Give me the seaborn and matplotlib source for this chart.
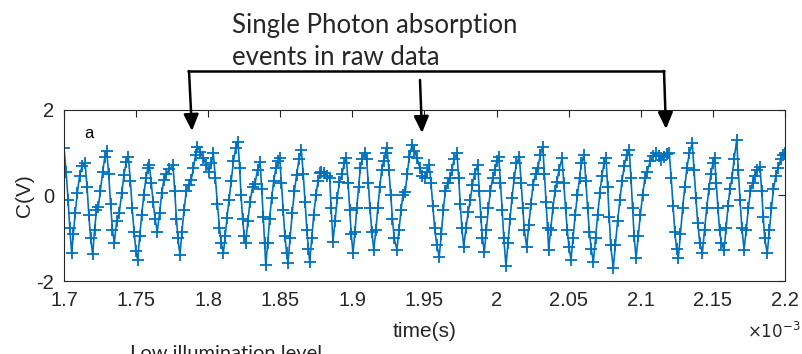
import matplotlib
matplotlib.use('Agg')

import numpy as np
import pandas as pd
import matplotlib.pyplot as plt
import seaborn as sns

# sample times in microseconds and capacitor voltage
t_us = [
    1700.0, 1701.5, 1702.8, 1704.0, 1705.3, 1706.5, 1707.8, 1709.2, 1710.8, 1712.5,
    1714.6, 1716.0, 1717.2, 1718.5, 1719.9, 1721.2, 1722.5, 1723.8, 1725.2, 1726.8,
    1728.3, 1729.6, 1731.0, 1732.3, 1733.6, 1734.9, 1736.5, 1738.3, 1740.0, 1741.6,
    1743.2, 1744.6, 1746.0, 1747.3, 1748.6, 1749.9, 1751.1, 1752.5, 1753.9, 1755.3,
    1756.8, 1758.2, 1759.2, 1760.5, 1761.8, 1763.2, 1764.7, 1766.3, 1767.8, 1769.2,
    1771.0, 1773.0, 1775.6, 1776.8, 1778.0, 1779.0, 1780.4, 1781.8, 1783.2, 1784.8,
    1786.5, 1788.2, 1789.8, 1791.2, 1792.5, 1794.5, 1796.5, 1798.5, 1800.5, 1802.2,
    1803.5, 1805.0, 1806.4, 1807.8, 1809.0, 1810.5, 1811.8, 1813.0, 1814.5, 1816.0,
    1817.5, 1819.0, 1820.7, 1821.8, 1822.8, 1823.9, 1825.0, 1826.0, 1827.5, 1829.0,
    1830.8, 1832.5, 1834.2, 1836.0, 1837.1, 1838.2, 1839.1, 1839.9, 1841.3, 1842.6,
    1844.0, 1845.5, 1847.0, 1848.4, 1849.6, 1850.8, 1852.0, 1853.2, 1854.4, 1855.3,
    1856.8, 1858.3, 1859.8, 1861.3, 1863.0, 1864.6, 1865.9, 1867.2, 1868.4, 1869.5,
    1870.4, 1871.8, 1873.2, 1874.7, 1876.2, 1877.5, 1878.5, 1880.5, 1882.5, 1884.2,
    1885.3, 1886.5, 1888.0, 1889.5, 1891.0, 1892.8, 1894.3, 1895.8, 1897.0, 1898.2,
    1899.2, 1900.4, 1901.8, 1903.0, 1904.3, 1905.5, 1906.8, 1908.5, 1909.8, 1911.0,
    1912.2, 1913.5, 1914.8, 1916.3, 1917.6, 1919.0, 1920.3, 1921.6, 1923.0, 1924.0,
    1925.3, 1926.6, 1927.8, 1929.0, 1930.9, 1932.3, 1933.7, 1935.0, 1936.7, 1938.0,
    1939.5, 1941.3, 1943.0, 1944.9, 1946.8, 1948.5, 1950.2, 1951.8, 1953.3, 1954.5,
    1955.8, 1957.0, 1958.5, 1960.2, 1961.7, 1963.0, 1964.5, 1966.0, 1967.5, 1969.0,
    1970.5, 1972.5, 1973.7, 1974.8, 1975.9, 1977.2, 1978.8, 1980.3, 1981.8, 1983.2,
    1984.7, 1986.9, 1988.0, 1989.1, 1990.2, 1991.5, 1992.9, 1994.3, 1995.7, 1997.2,
    1998.8, 2000.2, 2001.5, 2002.7, 2003.9, 2005.0, 2006.5, 2007.9, 2009.3, 2010.7,
    2012.2, 2013.8, 2015.8, 2017.0, 2018.2, 2019.2, 2020.9, 2022.3, 2023.8, 2025.3,
    2027.0, 2028.6, 2030.3, 2032.0, 2033.2, 2034.3, 2035.3, 2036.1, 2037.5, 2039.0,
    2040.5, 2041.8, 2043.3, 2045.4, 2046.6, 2047.8, 2049.0, 2050.2, 2051.6, 2053.0,
    2054.5, 2056.0, 2057.5, 2058.8, 2060.6, 2061.9, 2063.1, 2064.4, 2065.6, 2067.1,
    2068.6, 2070.1, 2071.6, 2073.0, 2074.5, 2075.9, 2077.0, 2078.1, 2079.1, 2080.9,
    2082.4, 2083.9, 2085.5, 2087.0, 2088.6, 2090.2, 2092.0, 2093.2, 2094.3, 2095.4,
    2096.7, 2098.2, 2099.7, 2101.2, 2102.8, 2104.5, 2106.5, 2108.5, 2110.5, 2112.5,
    2114.3, 2116.2, 2118.0, 2119.8, 2121.1, 2122.4, 2123.6, 2124.8, 2126.0, 2127.5,
    2129.0, 2130.5, 2132.0, 2133.7, 2135.7, 2136.9, 2138.2, 2139.5, 2140.9, 2142.7,
    2144.2, 2145.7, 2147.2, 2148.6, 2150.0, 2151.2, 2152.3, 2153.5, 2154.6, 2155.8,
    2157.7, 2159.2, 2160.5, 2161.8, 2163.2, 2164.7, 2166.5, 2167.6, 2168.8, 2170.1,
    2171.6, 2173.1, 2174.6, 2176.0, 2177.5, 2179.1, 2180.8, 2182.7, 2183.8, 2184.9,
    2185.9, 2187.7, 2189.2, 2190.6, 2192.0, 2193.6, 2195.2, 2197.0, 2198.5, 2200.0,
]
c_v = [
    1.11, 0.55, -0.10, -0.75, -1.35, -0.90, -0.40, 0.05, 0.45, 0.68,
    0.76, 0.20, -0.45, -1.00, -1.38, -0.80, -0.35, -0.26, 0.10, 0.55,
    0.90, 1.03, 0.50, -0.20, -0.80, -1.11, -0.60, -0.41, 0.05, 0.48,
    0.78, 0.91, 0.35, -0.30, -0.85, -1.30, -1.51, -0.95, -0.45, 0.00,
    0.40, 0.65, 0.71, 0.30, -0.15, -0.55, -0.85, -0.40, 0.05, 0.36,
    0.50, 0.62, 0.71, 0.10, -0.55, -1.00, -1.39, -0.85, -0.35, 0.10,
    0.25, 0.36, 0.65, 0.95, 1.14, 1.02, 0.88, 0.72, 0.56, 0.75,
    0.99, 0.40, -0.20, -0.75, -1.10, -1.35, -0.95, -0.53, -0.10, 0.35,
    0.80, 1.10, 1.26, 0.65, 0.00, -0.55, -0.95, -1.11, -0.60, -0.15,
    0.20, 0.28, 0.60, 0.79, 0.15, -0.50, -1.10, -1.63, -1.10, -0.55,
    -0.05, 0.35, 0.65, 0.80, 0.87, 0.30, -0.35, -0.95, -1.35, -1.58,
    -1.00, -0.40, 0.10, 0.48, 0.85, 1.06, 0.50, -0.15, -0.80, -1.25,
    -1.55, -1.00, -0.45, 0.00, 0.35, 0.52, 0.56, 0.52, 0.45, 0.40,
    -0.30, -1.08, -0.60, -0.05, 0.32, 0.50, 0.75, 0.87, 0.30, -0.35,
    -0.90, -1.35, -0.85, -0.30, 0.20, 0.65, 0.85, 0.99, 0.85, 0.30,
    -0.30, -0.85, -1.27, -0.80, -0.30, 0.20, 0.60, 0.80, 1.00, 1.10,
    0.60, 0.00, -0.55, -1.00, -1.27, -0.80, -0.35, 0.00, 0.09, 0.50,
    0.90, 1.18, 1.05, 0.87, 0.65, 0.45, 0.40, 0.55, 0.71, 0.30,
    -0.25, -0.75, -1.15, -1.43, -0.90, -0.35, 0.10, 0.29, 0.40, 0.60,
    0.85, 0.99, 0.40, -0.20, -0.75, -1.20, -0.75, -0.38, -0.10, 0.25,
    0.50, 0.71, 0.10, -0.50, -1.00, -1.31, -0.80, -0.30, 0.10, 0.40,
    0.60, 0.80, 0.91, 0.30, -0.35, -1.00, -1.66, -1.10, -0.55, -0.05,
    0.40, 0.75, 0.91, 0.30, -0.30, -0.80, -1.20, -0.70, -0.20, 0.25,
    0.50, 0.64, 0.95, 1.14, 0.50, -0.15, -0.75, -1.27, -0.80, -0.30,
    0.10, 0.32, 0.60, 0.87, 0.30, -0.30, -0.80, -1.20, -1.51, -1.00,
    -0.45, 0.00, 0.40, 0.75, 0.95, 0.35, -0.30, -0.85, -1.25, -1.55,
    -1.00, -0.45, 0.05, 0.45, 0.75, 0.87, 0.20, -0.50, -1.15, -1.70,
    -1.15, -0.60, -0.10, 0.35, 0.70, 0.95, 1.06, 0.40, -0.30, -0.95,
    -1.47, -0.95, -0.45, 0.00, 0.40, 0.56, 0.80, 0.93, 0.99, 0.92,
    0.83, 0.90, 0.97, 0.99, 0.40, -0.25, -0.85, -1.25, -1.47, -0.90,
    -0.30, 0.20, 0.65, 1.00, 1.22, 0.60, -0.05, -0.65, -1.10, -1.35,
    -0.80, -0.30, 0.15, 0.50, 0.75, 0.87, 0.30, -0.30, -0.80, -1.10,
    -1.27, -0.75, -0.25, 0.15, 0.40, 0.85, 1.30, 0.60, -0.10, -0.75,
    -1.27, -0.80, -0.30, 0.10, 0.29, 0.45, 0.60, 0.67, 0.10, -0.50,
    -1.00, -1.35, -0.80, -0.30, 0.15, 0.45, 0.64, 0.85, 0.95, 0.99,
]

x_ticks = [1.7, 1.75, 1.8, 1.85, 1.9, 1.95, 2.0, 2.05, 2.1, 2.15, 2.2]
x_tick_labels = ['1.7', '1.75', '1.8', '1.85', '1.9', '1.95', '2', '2.05', '2.1', '2.15', '2.2']
y_ticks = [-2, 0, 2]
y_tick_labels = ['-2', '0', '2']

df = pd.DataFrame({'time': np.array(t_us) * 1e-6, 'C': c_v})

sns.set_style('white')
plt.rcParams['font.family'] = ['Liberation Sans', 'DejaVu Sans']

fig = plt.figure(figsize=(8.02, 3.54), dpi=100)
ax = fig.add_axes([0.0798, 0.2062, 0.899, 0.4831])

matlab_blue = '#0072BD'
sns.lineplot(data=df, x='time', y='C', ax=ax, sort=False, estimator=None,
             color=matlab_blue, linewidth=1.2, marker='+', markersize=8,
             markeredgewidth=1.3, markeredgecolor=matlab_blue)

ax.set_xlim(1.7e-3, 2.2e-3)
ax.set_ylim(-2, 2)
ax.set_xticks(np.array(x_ticks) * 1e-3)
ax.set_xticklabels(x_tick_labels)
ax.set_yticks(y_ticks)
ax.set_yticklabels(y_tick_labels)
ax.tick_params(direction='in', length=5, width=0.8, top=True, right=True,
               labelsize=14.5, colors='#262626', pad=7)
for s in ax.spines.values():
    s.set_color('#262626')
    s.set_linewidth(0.8)

ax.set_xlabel('time(s)', fontsize=15, color='#262626', labelpad=9)
ax.set_ylabel('C(V)', fontsize=15, color='#262626', labelpad=2)
ax.text(0.985, -0.29, r'$\times10^{-3}$', transform=ax.transAxes, fontsize=12,
        color='#262626', ha='center', va='center')
ax.text(0.035, 0.86, 'a', transform=ax.transAxes, fontsize=12, color='black',
        ha='center', va='center')

# annotation text and bracket with arrows
H = 354
ann_font = ['Lato', 'DejaVu Sans']
fig.text(232 / 802, 1 - 33 / H, 'Single Photon absorption', family=ann_font,
         fontsize=18.5, ha='left', va='baseline')
fig.text(232 / 802, 1 - 65 / H, 'events in raw data', family=ann_font,
         fontsize=18.5, ha='left', va='baseline')
fig.text(130 / 802, 1 - 345 / H, 'Low illumination level', family=ann_font,
         fontsize=14.5, ha='left', va='top')

fig.add_artist(plt.Line2D([188 / 802, 664 / 802], [1 - 71 / H, 1 - 71 / H],
                          color='black', linewidth=1.8))
arrows = [((189, 71), (192, 131)), ((420, 80), (422, 133)), ((664, 71), (666, 129))]
for (x0, y0), (x1, y1) in arrows:
    ax.annotate('', xy=(x1, H - y1), xytext=(x0, H - y0), xycoords='figure pixels',
                textcoords='figure pixels', annotation_clip=False,
                arrowprops=dict(arrowstyle='-|>,head_width=0.45,head_length=1.0',
                                color='black', lw=1.8, shrinkA=0, shrinkB=0))

fig.savefig('out.png', dpi=100)
